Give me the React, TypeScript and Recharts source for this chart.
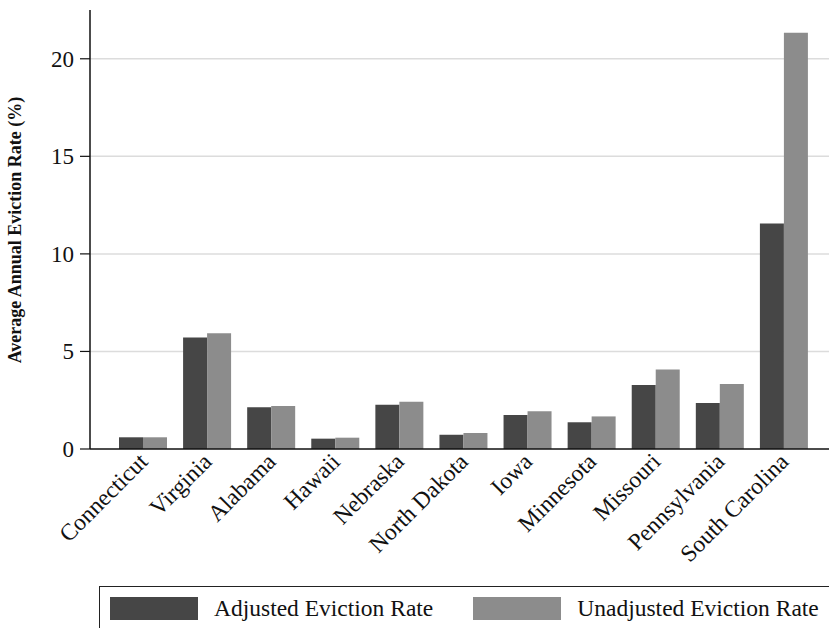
import React from "react";
import { BarChart, Bar, XAxis, YAxis, CartesianGrid, Label } from "recharts";

// Valores (tasa de desalojo anual media, %)
const states = [
  "Connecticut",
  "Virginia",
  "Alabama",
  "Hawaii",
  "Nebraska",
  "North Dakota",
  "Iowa",
  "Minnesota",
  "Missouri",
  "Pennsylvania",
  "South Carolina",
];
const adjusted = [0.6, 5.72, 2.14, 0.53, 2.27, 0.73, 1.74, 1.37, 3.28, 2.36, 11.56];
const unadjusted = [0.6, 5.93, 2.2, 0.58, 2.42, 0.82, 1.93, 1.67, 4.08, 3.33, 21.33];
const yTicks = [0, 5, 10, 15, 20];
const seriesNames = ["Adjusted Eviction Rate", "Unadjusted Eviction Rate"];

const data = states.map((s, i) => ({
  state: s,
  adjusted: adjusted[i],
  unadjusted: unadjusted[i],
}));

const SERIF = '"Liberation Serif", "Times New Roman", serif';
const DARK = "#464646";
const LIGHT = "#8c8c8c";

function StateTick({ x = 0, y = 0, payload }: any) {
  return (
    <g transform={`translate(${x + 6},${y + 14})`}>
      <text
        textAnchor="end"
        transform="rotate(-45)"
        style={{ fontFamily: SERIF }}
        fontSize={23.5}
        fill="#111"
      >
        {payload?.value}
      </text>
    </g>
  );
}

function ValueTick({ x = 0, y = 0, payload }: any) {
  return (
    <text
      x={x}
      y={y}
      dy={8}
      textAnchor="end"
      style={{ fontFamily: SERIF }}
      fontSize={23}
      fill="#111"
    >
      {payload?.value}
    </text>
  );
}

// Leyenda con caja, fuera del área del gráfico para no robarle alto
function LegendBox() {
  const colors = [DARK, LIGHT];
  return (
    <div
      style={{
        position: "absolute",
        left: 99,
        top: 586,
        width: 740,
        height: 60,
        border: "1px solid #222",
        boxSizing: "border-box",
        display: "flex",
        alignItems: "flex-start",
        paddingTop: 10,
        paddingLeft: 10,
        fontFamily: SERIF,
        fontSize: 23.5,
        color: "#111",
      }}
    >
      {seriesNames.map((name, i) => (
        <div
          key={name}
          style={{ display: "flex", alignItems: "center", marginLeft: i ? 40 : 0 }}
        >
          <div style={{ width: 88, height: 23, background: colors[i] }} />
          <span style={{ marginLeft: 16, lineHeight: "23px", fontFamily: SERIF }}>
            {name}
          </span>
        </div>
      ))}
    </div>
  );
}

export default function App() {
  return (
    <div
      style={{
        position: "absolute",
        left: 0,
        top: 0,
        width: 829,
        height: 628,
        overflow: "hidden",
        background: "#fff",
      }}
    >
      <BarChart
        width={829}
        height={628}
        data={data}
        margin={{ top: 10, right: 0, bottom: 0, left: 0 }}
        barCategoryGap={8}
        barGap={0}
      >
        <CartesianGrid
          vertical={false}
          stroke="#dcdcdc"
          strokeWidth={1.5}
          horizontalValues={[5, 10, 15, 20]}
        />
        <XAxis
          dataKey="state"
          interval={0}
          tickLine={false}
          tickSize={0}
          tickMargin={0}
          height={179}
          padding={{ left: 21, right: 13 }}
          axisLine={{ stroke: "#111", strokeWidth: 1.5 }}
          tick={<StateTick />}
        />
        <YAxis
          width={90}
          domain={[0, 22.5]}
          ticks={yTicks}
          allowDataOverflow
          tickSize={10}
          tickMargin={6}
          tickLine={{ stroke: "#111", strokeWidth: 1.2 }}
          axisLine={{ stroke: "#111", strokeWidth: 1.5 }}
          tick={<ValueTick />}
        >
          <Label
            content={() => (
              <text
                transform="translate(21,230) rotate(-90)"
                textAnchor="middle"
                style={{ fontFamily: SERIF }}
                fontWeight="bold"
                fontSize={18}
                fill="#111"
              >
                Average Annual Eviction Rate (%)
              </text>
            )}
          />
        </YAxis>
        <Bar dataKey="adjusted" name={seriesNames[0]} fill={DARK} isAnimationActive={false} />
        <Bar dataKey="unadjusted" name={seriesNames[1]} fill={LIGHT} isAnimationActive={false} />
      </BarChart>
      <LegendBox />
    </div>
  );
}
